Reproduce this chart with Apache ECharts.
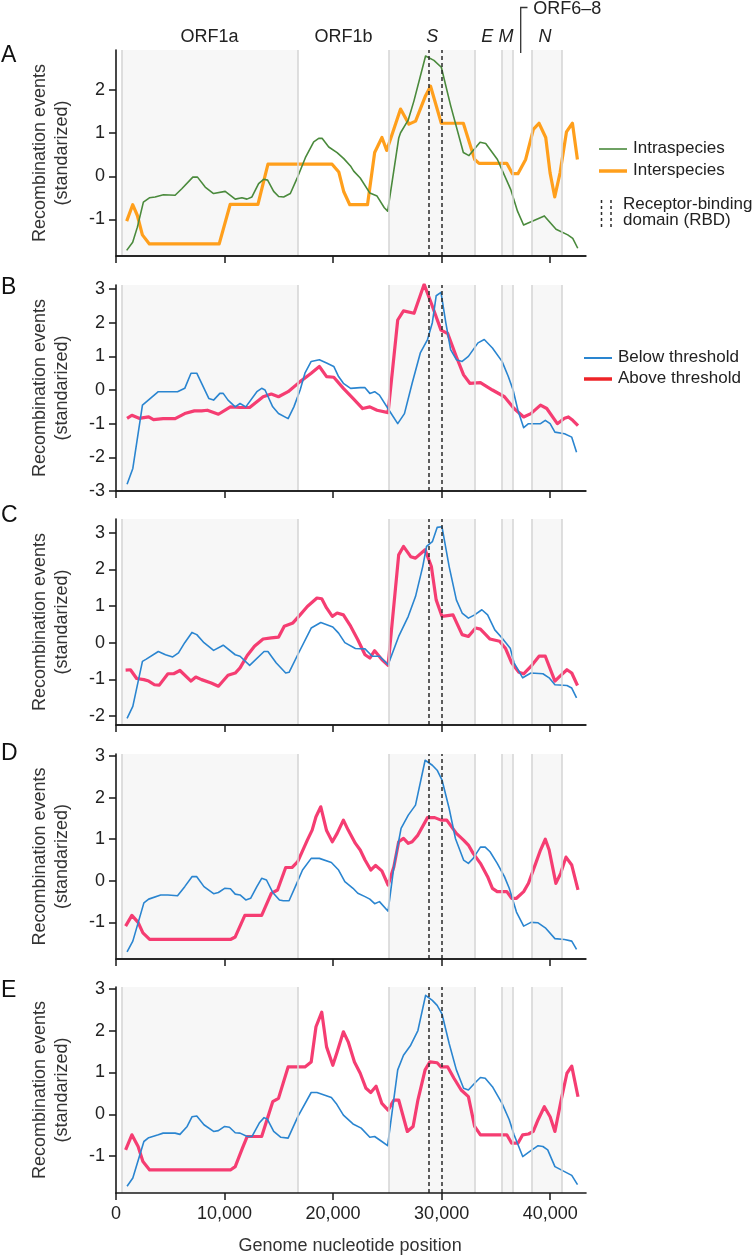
<!DOCTYPE html>
<html>
<head>
<meta charset="utf-8">
<script src="https://cdn.jsdelivr.net/npm/echarts@6/dist/echarts.min.js"></script>
<style>
html,body{margin:0;padding:0;background:#fff;}
#chart{width:752px;height:1257px;}
</style>
</head>
<body>
<div id="chart"></div>
<script>
// ---------------- data (genome position in nt, standardized recombination events) -------------
const panelLetters = ['A', 'B', 'C', 'D', 'E'];
const geneNames = ['ORF1a', 'ORF1b', 'S', 'E', 'M', 'ORF6\u20138', 'N'];
const geneBoundaries = [500, 16750, 25170, 33050, 35510, 36530, 38280, 41100];
const shadedRegions = [[500, 16750], [25170, 33050], [35510, 36530], [38280, 41100]];
const rbdBounds = [28770, 30000];
const xTickValues = [0, 10000, 20000, 30000, 40000];
const yTickValues = [[-1, 0, 1, 2], [-3, -2, -1, 0, 1, 2, 3], [-2, -1, 0, 1, 2, 3], [-1, 0, 1, 2, 3], [-1, 0, 1, 2, 3]];
const yRanges = [[-1.85, 2.93], [-3, 3.12], [-2.25, 3.38], [-1.88, 3.05], [-1.88, 3.04]];

const intraA = [[984,-1.72],[1538,-1.53],[1969,-1.18],[2523,-0.60],[3077,-0.50],[3600,-0.48],[4369,-0.43],[5446,-0.44],[6061,-0.29],[7077,-0.02],[7508,-0.02],[8215,-0.25],[8985,-0.40],[10061,-0.35],[10985,-0.53],[11600,-0.50],[12062,-0.53],[12523,-0.48],[13138,-0.17],[13600,-0.07],[13969,-0.09],[14523,-0.35],[14985,-0.47],[15446,-0.48],[16061,-0.40],[16677,-0.05],[17446,0.43],[18215,0.80],[18677,0.88],[18985,0.88],[19600,0.68],[20369,0.55],[20985,0.41],[21600,0.24],[21900,0.12],[22500,-0.04],[23390,-0.39],[24050,-0.46],[24720,-0.73],[25030,-0.81],[26050,0.89],[26215,1.01],[26930,1.31],[27450,1.75],[28520,2.79],[29290,2.69],[29970,2.53],[30830,1.64],[32000,0.55],[32520,0.48],[33540,0.79],[34060,0.76],[35140,0.39],[36370,-0.31],[36990,-0.81],[37550,-1.13],[39460,-0.92],[40540,-1.23],[41620,-1.36],[42080,-1.44],[42540,-1.67]];
const interA = [[984,-1.04],[1538,-0.66],[1969,-0.91],[2430,-1.36],[3077,-1.57],[9508,-1.57],[10523,-0.65],[13077,-0.65],[14000,0.28],[19908,0.28],[20523,0.10],[20985,-0.36],[21538,-0.66],[23170,-0.66],[23830,0.55],[24500,0.90],[24940,0.60],[26215,1.56],[26985,1.21],[27600,1.28],[28520,1.87],[28980,2.09],[29970,1.23],[32000,1.23],[33045,0.39],[33445,0.30],[36000,0.30],[36520,0.06],[37030,0.06],[37740,0.39],[38450,1.09],[38970,1.23],[39590,0.90],[39990,0.08],[40420,-0.48],[40910,0.08],[41500,1.03],[42050,1.23],[42510,0.39]];

const belowB = [[1019,-2.80],[1550,-2.33],[2436,-0.45],[2790,-0.35],[3898,-0.05],[5669,-0.05],[6333,0.05],[6909,0.5],[7441,0.5],[8548,-0.25],[8991,-0.3],[9567,-0.1],[9877,-0.1],[10320,-0.3],[10984,-0.5],[11427,-0.4],[11958,-0.5],[12977,-0.05],[13420,0.05],[13730,0.0],[14439,-0.5],[14970,-0.7],[15856,-0.85],[16387,-0.5],[16963,0],[17406,0.5],[17982,0.85],[18734,0.9],[19399,0.8],[20063,0.7],[20506,0.4],[20949,0.2],[21614,0.05],[22499,0.07],[22942,0.07],[23385,-0.1],[23828,-0.05],[24271,-0.15],[25157,-0.6],[25954,-1.0],[26574,-0.7],[27283,0.2],[28035,1.1],[28700,1.5],[29143,2.0],[29497,2.8],[29940,2.9],[30383,2.0],[30826,1.2],[31357,0.9],[31889,0.85],[32465,1.0],[33350,1.4],[33926,1.5],[34679,1.25],[35565,0.85],[36141,0.4],[36584,0],[37027,-0.6],[37558,-1.12],[38001,-1.0],[39108,-1.0],[39551,-0.9],[39994,-1.0],[40437,-1.25],[41323,-1.3],[41987,-1.4],[42430,-1.85]];
const aboveB = [[1019,-0.84],[1462,-0.75],[2126,-0.84],[3012,-0.80],[3455,-0.88],[4340,-0.85],[5448,-0.85],[6333,-0.70],[7219,-0.62],[7884,-0.62],[8415,-0.6],[9434,-0.72],[10541,-0.5],[11427,-0.52],[12313,-0.52],[13553,-0.2],[14306,-0.12],[14970,-0.2],[15856,-0.05],[16963,0.25],[17982,0.5],[18734,0.7],[19399,0.4],[20063,0.38],[20949,0.05],[21835,-0.25],[22721,-0.55],[23385,-0.5],[24049,-0.6],[25068,-0.67],[25954,2.08],[26485,2.35],[27460,2.28],[28390,3.14],[29054,2.57],[29940,1.78],[30560,1.68],[31357,0.99],[32022,0.45],[32598,0.2],[33572,0.22],[34679,0],[35786,-0.2],[36672,-0.55],[37558,-0.8],[38222,-0.7],[39108,-0.45],[39684,-0.55],[40658,-1.0],[41323,-0.84],[41677,-0.8],[42076,-0.9],[42563,-1.06]];

const belowC = [[1019,-2.07],[1550,-1.74],[2436,-0.51],[2790,-0.45],[3898,-0.24],[4562,-0.33],[5226,-0.39],[5758,-0.28],[6333,0],[6998,0.28],[7441,0.22],[8105,0],[8991,-0.21],[9877,-0.07],[10984,-0.33],[11427,-0.37],[12313,-0.62],[13641,-0.24],[13996,-0.24],[14749,-0.55],[15634,-0.83],[15944,-0.81],[16742,-0.33],[17982,0.4],[18867,0.55],[19975,0.43],[20506,0.26],[21082,0],[22056,-0.16],[22942,-0.17],[23607,-0.37],[24271,-0.37],[25068,-0.6],[26043,0.17],[26928,0.72],[27592,1.26],[28257,2.08],[28611,2.63],[29143,2.76],[29586,3.15],[30029,3.17],[30693,2.08],[31357,1.17],[31889,0.81],[32465,0.67],[33040,0.76],[33705,0.9],[34236,0.76],[34900,0.35],[35565,0.13],[36318,-0.15],[36672,-0.55],[37469,-0.96],[38222,-0.83],[39330,-0.85],[39905,-0.96],[40437,-1.15],[41544,-1.17],[41987,-1.24],[42430,-1.51]];
const aboveC = [[886,-0.75],[1329,-0.74],[1904,-0.98],[2569,-1.01],[3012,-1.05],[3543,-1.15],[3986,-1.16],[4783,-0.85],[5315,-0.85],[5891,-0.76],[6909,-1.05],[7352,-0.94],[7884,-1.01],[8769,-1.1],[9434,-1.19],[10320,-0.89],[10984,-0.83],[11427,-0.69],[12091,-0.35],[12756,-0.1],[13553,0.1],[14306,0.13],[14970,0.15],[15502,0.45],[16299,0.54],[16963,0.76],[17627,0.99],[18513,1.22],[18956,1.2],[19399,0.95],[19931,0.72],[20373,0.81],[20949,0.76],[21614,0.45],[22278,0.08],[22942,-0.33],[23385,-0.42],[23828,-0.22],[24492,-0.46],[25068,-0.62],[26043,2.4],[26485,2.63],[27150,2.35],[27592,2.31],[28478,2.54],[29054,2.08],[29497,1.17],[30029,0.72],[31047,0.76],[31889,0.22],[32465,0.17],[33129,0.4],[33572,0.37],[34458,0.1],[35343,0.04],[35875,-0.15],[36451,-0.55],[37115,-0.81],[37558,-0.85],[38222,-0.65],[38975,-0.37],[39551,-0.37],[40437,-1.05],[40880,-0.92],[41544,-0.74],[41987,-0.83],[42518,-1.17]];

const belowD = [[1019,-1.71],[1550,-1.45],[2569,-0.53],[3012,-0.44],[4119,-0.34],[4783,-0.34],[5669,-0.36],[6333,-0.14],[6998,0.10],[7441,0.10],[8105,-0.14],[8991,-0.31],[9434,-0.28],[10010,-0.18],[10541,-0.19],[10984,-0.32],[11427,-0.34],[11958,-0.46],[12401,-0.42],[12977,-0.14],[13420,0.06],[13863,0.02],[14439,-0.28],[15059,-0.46],[15413,-0.48],[15944,-0.48],[16520,-0.14],[17185,0.26],[17982,0.54],[18734,0.54],[19842,0.44],[20506,0.26],[21082,-0.02],[21835,-0.18],[22278,-0.30],[22942,-0.38],[23385,-0.44],[23828,-0.55],[24271,-0.5],[25068,-0.73],[25600,0.34],[26264,1.26],[26928,1.58],[27592,1.82],[28478,2.90],[29143,2.78],[29586,2.66],[30029,2.43],[30693,1.74],[31269,1.02],[32022,0.5],[32465,0.42],[32907,0.54],[33572,0.81],[34015,0.81],[34458,0.7],[35122,0.42],[35786,0.10],[36229,-0.18],[36894,-0.75],[37558,-1.09],[38222,-1.0],[38887,-1.01],[39551,-1.13],[40437,-1.39],[41323,-1.41],[41987,-1.45],[42430,-1.65]];
const aboveD = [[886,-1.09],[1462,-0.83],[2037,-1.0],[2480,-1.25],[3100,-1.41],[10541,-1.41],[10984,-1.35],[11870,-0.83],[13420,-0.83],[14306,-0.3],[14881,-0.22],[15634,0.32],[16210,0.32],[16742,0.46],[17627,0.98],[18070,1.22],[18424,1.54],[18867,1.78],[19399,1.21],[19931,0.94],[20373,1.14],[20949,1.46],[21392,1.22],[22056,0.9],[22499,0.74],[22942,0.5],[23474,0.26],[23917,0.37],[24492,0.24],[25068,-0.1],[25600,0.34],[26043,0.94],[26485,1.02],[26928,0.9],[27283,0.94],[27814,1.1],[28700,1.52],[29364,1.52],[29940,1.46],[30472,1.46],[31357,1.14],[32022,0.98],[32465,0.86],[32907,0.66],[33572,0.42],[34236,0.1],[34679,-0.18],[35122,-0.26],[36008,-0.26],[36451,-0.42],[36894,-0.42],[37558,-0.26],[38001,-0.06],[38665,0.42],[39108,0.74],[39551,1.0],[39905,0.74],[40526,-0.06],[40968,0.18],[41455,0.57],[41987,0.38],[42563,-0.22]];

const belowE = [[1019,-1.72],[1550,-1.52],[2569,-0.65],[3012,-0.56],[3898,-0.49],[4340,-0.45],[5448,-0.45],[5891,-0.48],[6555,-0.29],[6998,-0.06],[7441,-0.04],[8105,-0.25],[8991,-0.41],[9434,-0.39],[10010,-0.29],[10452,-0.31],[10984,-0.44],[11427,-0.45],[12091,-0.53],[12534,-0.53],[13198,-0.21],[13641,-0.08],[13951,-0.12],[14527,-0.41],[15191,-0.55],[15856,-0.57],[16742,-0.06],[17982,0.52],[18513,0.52],[19842,0.4],[20285,0.26],[20949,-0.02],[21835,-0.23],[22588,-0.33],[23385,-0.55],[23828,-0.53],[24492,-0.65],[25024,-0.75],[25954,1.06],[26485,1.41],[27150,1.65],[27814,2.0],[28522,2.84],[29143,2.72],[29586,2.6],[30029,2.4],[30693,1.69],[31357,1.06],[32022,0.62],[32465,0.58],[33040,0.74],[33572,0.88],[34015,0.86],[34679,0.66],[35565,0.26],[36229,-0.13],[36672,-0.49],[37469,-1.01],[38222,-0.87],[38887,-0.75],[39330,-0.77],[39773,-0.85],[40437,-1.25],[41323,-1.37],[41987,-1.46],[42518,-1.68]];
const aboveE = [[886,-0.85],[1462,-0.49],[2037,-0.77],[2480,-1.13],[3100,-1.33],[10541,-1.33],[10984,-1.25],[11648,-0.81],[12091,-0.53],[13420,-0.53],[14439,0.3],[14970,0.38],[15856,1.13],[17406,1.13],[17982,1.25],[18424,2.09],[18956,2.44],[19399,1.61],[19975,1.17],[20373,1.49],[20949,1.97],[21392,1.73],[21968,1.25],[22499,0.98],[23031,0.62],[23474,0.52],[23961,0.67],[24492,0.26],[25068,0.1],[25600,0.34],[26043,0.34],[26840,-0.41],[27371,-0.29],[27814,0.34],[28478,1.06],[28921,1.25],[29586,1.23],[29940,1.13],[30560,1.13],[31136,0.86],[31800,0.58],[32465,0.42],[33040,-0.29],[33572,-0.49],[36008,-0.49],[36451,-0.69],[37027,-0.69],[37469,-0.49],[38001,-0.47],[38444,-0.41],[38887,-0.13],[39462,0.18],[39994,-0.06],[40437,-0.41],[41013,0.34],[41544,0.98],[41987,1.15],[42563,0.42]];

// ---------------- layout / style -------------
const FONT = '"Liberation Sans", Arial, Helvetica, sans-serif';
const X_MAX = 43300;
const gridLeft = 116, gridWidth = 470;
const gridTops = [50, 285, 519, 754, 987];
const gridHeights = [206, 206, 206, 205, 206];
const letterY = [55, 287, 515, 753, 990];
const TICK_PX = 7;

const COL_GREEN = '#4a8a3c', COL_ORANGE = '#ff9f1c', COL_BLUE = '#2a85d0', COL_PINK = '#f53d72', COL_RED = '#ee2327';

const thickSeries = [interA, aboveB, aboveC, aboveD, aboveE];
const thinSeries = [intraA, belowB, belowC, belowD, belowE];
const thickColors = [COL_ORANGE, COL_PINK, COL_PINK, COL_PINK, COL_PINK];
const thinColors = [COL_GREEN, COL_BLUE, COL_BLUE, COL_BLUE, COL_BLUE];
const thickNames = ['Interspecies', 'Above threshold', 'Above threshold', 'Above threshold', 'Above threshold'];
const thinNames = ['Intraspecies', 'Below threshold', 'Below threshold', 'Below threshold', 'Below threshold'];

const grids = [], xAxes = [], yAxes = [], series = [], titles = [], graphics = [];
const fmtX = v => v === 0 ? '0' : String(v).replace(/\B(?=(\d{3})+(?!\d))/g, ',');
const AXIS_COLOR = '#1a1a1a';

function addText(text, left, cy, size, opts) {
  opts = opts || {};
  titles.push({
    text: text, left: left, top: cy - size * 0.6, padding: 0, itemGap: 0,
    textStyle: {fontSize: size, fontWeight: 'normal', fontStyle: opts.italic ? 'italic' : 'normal', fontFamily: FONT, color: opts.color || '#222', lineHeight: Math.round(size * 1.2)}
  });
}

for (let i = 0; i < 5; i++) {
  grids.push({left: gridLeft, width: gridWidth, top: gridTops[i], height: gridHeights[i]});
  const lastPanel = (i === 4);
  xAxes.push({
    type: 'value', gridIndex: i, min: 0, max: X_MAX, z: 10, position: 'bottom',
    axisLine: {show: true, onZero: false, lineStyle: {color: AXIS_COLOR, width: 1.6}},
    axisTick: {show: true, length: TICK_PX, customValues: xTickValues, lineStyle: {color: AXIS_COLOR, width: 1.5}},
    axisLabel: {show: true, customValues: xTickValues, formatter: lastPanel ? fmtX : (() => ''), fontSize: 18, color: lastPanel ? '#222' : 'rgba(0,0,0,0)', fontFamily: FONT, margin: 12},
    splitLine: {show: false}
  });
  yAxes.push({
    type: 'value', gridIndex: i, min: yRanges[i][0], max: yRanges[i][1], z: 10,
    name: 'Recombination events\n(standarized)', nameLocation: 'middle', nameRotate: 90, nameGap: 43,
    nameTextStyle: {fontSize: 18, fontFamily: FONT, color: '#333', lineHeight: 22},
    axisLine: {show: true, onZero: false, lineStyle: {color: AXIS_COLOR, width: 1.6}},
    axisTick: {show: true, length: TICK_PX, customValues: yTickValues[i], lineStyle: {color: AXIS_COLOR, width: 1.5}},
    axisLabel: {show: true, customValues: yTickValues[i], fontSize: 18, color: '#222', fontFamily: FONT, margin: 11},
    splitLine: {show: false}
  });
  // background: gene shading, gene boundaries, RBD
  const lineData = geneBoundaries.map(b => ({xAxis: b, lineStyle: {color: '#d4d4d4', width: 1.5, type: 'solid'}}));
  rbdBounds.forEach(b => lineData.push({xAxis: b, lineStyle: {color: '#2b2b2b', width: 1.5, type: [4, 3]}}));
  series.push({
    type: 'line', xAxisIndex: i, yAxisIndex: i, z: 0, silent: true,
    data: [[0, 0]], showSymbol: false, lineStyle: {opacity: 0},
    markArea: {silent: true, itemStyle: {color: '#f7f7f7'}, data: shadedRegions.map(r => [{xAxis: r[0]}, {xAxis: r[1]}])},
    markLine: {silent: true, symbol: 'none', label: {show: false}, animation: false, data: lineData}
  });
  series.push({
    name: thickNames[i], type: 'line', xAxisIndex: i, yAxisIndex: i, z: 3,
    data: thickSeries[i], showSymbol: false, animation: false,
    lineStyle: {color: thickColors[i], width: 3.2, join: 'round'}
  });
  series.push({
    name: thinNames[i], type: 'line', xAxisIndex: i, yAxisIndex: i, z: 4,
    data: thinSeries[i], showSymbol: false, animation: false,
    lineStyle: {color: thinColors[i], width: 1.6, join: 'round'}
  });
  // reinforcement of the bottom axis line and its ticks for the upper panels
  if (!lastPanel) {
    const yMin = yRanges[i][0];
    const tickDy = (yRanges[i][1] - yRanges[i][0]) / gridHeights[i] * TICK_PX;
    const baseData = [[{coord: [0, yMin]}, {coord: [X_MAX, yMin]}]];
    xTickValues.forEach(t => baseData.push([{coord: [t, yMin]}, {coord: [t, yMin - tickDy]}]));
    series.push({
      type: 'line', xAxisIndex: i, yAxisIndex: i, z: 12, silent: true, clip: false,
      data: [[0, yMin]], showSymbol: false, lineStyle: {opacity: 0},
      markLine: {silent: true, symbol: 'none', label: {show: false}, animation: false,
        lineStyle: {color: AXIS_COLOR, width: 1.6, type: 'solid'}, data: baseData}
    });
  }
  addText(panelLetters[i], 1, letterY[i], 23, {color: '#111'});
}

// gene labels (left edge of each label)
const geneLabelLeft = [180.6, 314.4, 426.3, 481.3, 498.5, 533.3, 538.5];
const geneLabelY = [37, 37, 37, 37, 37, 9, 37];
geneNames.forEach((g, k) => addText(g, geneLabelLeft[k], geneLabelY[k], 18, {italic: g.length === 1}));
graphics.push({type: 'polyline', shape: {points: [[527.5, 7.5], [520.7, 7.5], [520.7, 53]]}, style: {stroke: '#333', lineWidth: 1.3}});

// legends
function legendLine(x1, x2, y, color, w, label, tx) {
  graphics.push({type: 'line', shape: {x1: x1, y1: y, x2: x2, y2: y}, style: {stroke: color, lineWidth: w}});
  addText(label, tx, y, 17);
}
legendLine(599, 627, 149, COL_GREEN, 1.6, 'Intraspecies', 633);
legendLine(599, 627, 171, COL_ORANGE, 3.5, 'Interspecies', 633);
graphics.push({type: 'line', shape: {x1: 601.5, y1: 200, x2: 601.5, y2: 228}, style: {stroke: '#2b2b2b', lineWidth: 1.5, lineDash: [3, 3]}});
graphics.push({type: 'line', shape: {x1: 611, y1: 200, x2: 611, y2: 228}, style: {stroke: '#2b2b2b', lineWidth: 1.5, lineDash: [3, 3]}});
addText('Receptor-binding', 623, 205, 17);
addText('domain (RBD)', 623, 221, 17);
legendLine(584, 612, 358, COL_BLUE, 2, 'Below threshold', 618);
legendLine(584, 612, 379, COL_RED, 3.5, 'Above threshold', 618);

// x-axis title
addText('Genome nucleotide position', 238.5, 1246, 18, {color: '#333'});

const chart = echarts.init(document.getElementById('chart'), null, {renderer: 'canvas'});
chart.setOption({
  animation: false,
  backgroundColor: '#ffffff',
  title: titles,
  grid: grids, xAxis: xAxes, yAxis: yAxes, series: series,
  graphic: {elements: graphics}
});
</script>
</body>
</html>
